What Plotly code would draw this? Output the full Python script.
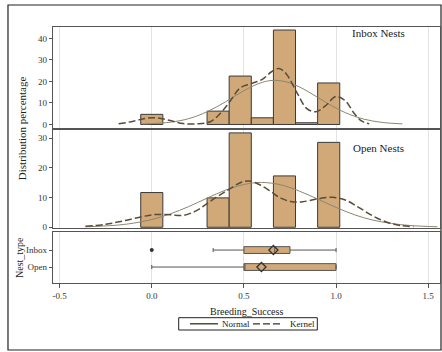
import plotly.graph_objects as go

# ---------------- data ----------------
bin_centers = [0.0, 0.12, 0.24, 0.36, 0.48, 0.60, 0.72, 0.84, 0.96]
inbox_pct = [4.7, 0, 0, 6.2, 22.5, 3.1, 43.9, 0.8, 19.3]
open_pct = [11.7, 0, 0, 9.9, 31.8, 0, 17.3, 0, 28.6]
bin_width = 0.12

inbox_normal_x = [-0.05, 0.1, 0.2, 0.3, 0.4, 0.5, 0.6, 0.67, 0.75, 0.85, 0.95, 1.05, 1.15, 1.25, 1.36]
inbox_normal_y = [0.2, 1.05, 2.7, 5.9, 10.5, 15.7, 19.6, 20.5, 19.3, 15.2, 10.0, 5.5, 2.5, 0.95, 0.27]

inbox_kernel_x = [-0.18, -0.1, -0.03, 0.03, 0.1, 0.17, 0.25, 0.32, 0.37, 0.42, 0.48, 0.54, 0.6, 0.65,
                  0.69, 0.73, 0.79, 0.84, 0.89, 0.94, 1.0, 1.05, 1.1, 1.14, 1.18]
inbox_kernel_y = [0.3, 1.5, 2.9, 3.0, 1.8, 0.4, 0.3, 1.4, 5.0, 10.2, 17.0, 19.0, 21.0, 24.5,
                  26.0, 23.5, 14.4, 7.5, 5.9, 8.5, 13.0, 11.0, 5.0, 1.5, 0.3]

open_normal_x = [-0.36, -0.2, -0.1, 0.0, 0.1, 0.2, 0.3, 0.4, 0.5, 0.595, 0.7, 0.8, 0.9, 1.0,
                 1.1, 1.2, 1.3, 1.4, 1.55]
open_normal_y = [0.16, 0.65, 1.37, 2.6, 4.5, 6.95, 9.8, 12.5, 14.4, 15.1, 14.3, 12.2, 9.5, 6.7,
                 4.2, 2.4, 1.3, 0.6, 0.16]

open_kernel_x = [-0.36, -0.25, -0.15, -0.05, 0.02, 0.1, 0.17, 0.24, 0.3, 0.36, 0.42, 0.48, 0.53,
                 0.58, 0.64, 0.7, 0.76, 0.82, 0.9, 0.98, 1.05, 1.12, 1.2, 1.28, 1.35, 1.42]
open_kernel_y = [0.3, 1.0, 2.2, 3.6, 4.3, 4.2, 4.0, 5.5, 8.0, 10.5, 12.8, 15.0, 15.6,
                 14.5, 12.3, 9.8, 8.6, 8.6, 9.6, 10.1, 9.2, 6.8, 3.8, 1.6, 0.6, 0.2]

nest_types = ["Inbox", "Open"]
box_low = [0.333, 0.0]
box_q1 = [0.5, 0.5]
box_median = [0.667, 0.5]
box_q3 = [0.75, 1.0]
box_high = [1.0, 1.0]
box_mean = [0.66, 0.595]
outlier_type = ["Inbox"]
outlier_x = [0.0]

x_ticks = [-0.5, 0.0, 0.5, 1.0, 1.5]
x_tick_labels = ["-0.5", "0.0", "0.5", "1.0", "1.5"]
legend_names = ["Normal", "Kernel"]

# ---------------- styles ----------------
BAR = "#D1A877"
EDGE = "#3a3a3a"
NORMAL_C = "#8b8672"
KERNEL_C = "#5a4c38"
FONT = "Liberation Serif"
AX = "#555555"
KDASH = "7px,3px"

fig = go.Figure()

def bars(xs, ys, yaxis, xaxis):
    px = [x for x, y in zip(xs, ys) if y > 0]
    py = [y for y in ys if y > 0]
    fig.add_trace(go.Bar(x=px, y=py, width=bin_width, xaxis=xaxis, yaxis=yaxis,
                         marker=dict(color=BAR, line=dict(color=EDGE, width=1)),
                         showlegend=False, hoverinfo="skip"))

bars(bin_centers, inbox_pct, "y3", "x3")
bars(bin_centers, open_pct, "y2", "x2")

for xs, ys, ya, xa in [(inbox_normal_x, inbox_normal_y, "y3", "x3"), (open_normal_x, open_normal_y, "y2", "x2")]:
    fig.add_trace(go.Scatter(x=xs, y=ys, xaxis=xa, yaxis=ya, mode="lines",
                             line=dict(color=NORMAL_C, width=1, shape="spline", smoothing=1),
                             showlegend=False, hoverinfo="skip"))
for xs, ys, ya, xa in [(inbox_kernel_x, inbox_kernel_y, "y3", "x3"), (open_kernel_x, open_kernel_y, "y2", "x2")]:
    fig.add_trace(go.Scatter(x=xs, y=ys, xaxis=xa, yaxis=ya, mode="lines",
                             line=dict(color=KERNEL_C, width=1.5, dash=KDASH, shape="spline", smoothing=1),
                             showlegend=False, hoverinfo="skip"))

# box plot panel
fig.add_trace(go.Box(y=nest_types, lowerfence=box_low, q1=box_q1, median=box_median, q3=box_q3,
                     upperfence=box_high, orientation="h", xaxis="x", yaxis="y",
                     fillcolor=BAR, line=dict(color=AX, width=1), width=0.4, whiskerwidth=0.6,
                     boxpoints=False, showlegend=False, hoverinfo="skip"))
fig.add_trace(go.Scatter(x=box_mean, y=nest_types, mode="markers", xaxis="x", yaxis="y",
                         marker=dict(symbol="diamond-open", size=7, color="#333", line=dict(width=1.3)),
                         showlegend=False, hoverinfo="skip"))
fig.add_trace(go.Scatter(x=outlier_x, y=outlier_type, mode="markers", xaxis="x", yaxis="y",
                         marker=dict(symbol="circle", size=4, color="#333"),
                         showlegend=False, hoverinfo="skip"))

xr = [-0.536, 1.564]
common_x = dict(range=xr, showgrid=True, gridcolor="#e3e3e3", gridwidth=1, tickvals=x_ticks,
                showline=True, mirror=True, linecolor=AX, linewidth=1.2, zeroline=False,
                tickfont=dict(family=FONT, size=9, color="#333"))
common_y = dict(showgrid=False, zeroline=False, showline=True, mirror=True, linecolor=AX, linewidth=1.2,
                ticks="outside", ticklen=3, tickcolor=AX, tickfont=dict(family=FONT, size=9, color="#333"))

fig.update_layout(
    width=442, height=352, autosize=False,
    margin=dict(l=53, r=2, t=27, b=69),
    paper_bgcolor="white", plot_bgcolor="white",
    barmode="overlay",
    showlegend=False,
    xaxis=dict(**common_x, anchor="y", ticktext=x_tick_labels, ticks="outside", ticklen=4, tickcolor=AX),
    xaxis2=dict(**common_x, anchor="y2", showticklabels=False, matches="x"),
    xaxis3=dict(**common_x, anchor="y3", showticklabels=False, matches="x"),
    yaxis=dict(**common_y, domain=[0.0, 0.199], anchor="x", type="category",
               categoryorder="array", categoryarray=["Open", "Inbox"], range=[-0.94, 2.06]),
    yaxis2=dict(**common_y, domain=[0.215, 0.598], anchor="x2", range=[-0.24, 32.8], tickvals=[0, 10, 20, 30]),
    yaxis3=dict(**common_y, domain=[0.605, 1.0], anchor="x3", range=[-1.7, 45.3], tickvals=[0, 10, 20, 30, 40]),
)

ann = dict(showarrow=False, xref="paper", yref="paper", font=dict(family=FONT, color="#222"))
fig.add_annotation(**ann, x=0.841, y=0.976, text="Inbox Nests", xanchor="center", yanchor="middle",
                   font_size=11)
fig.add_annotation(**ann, x=0.841, y=0.529, text="Open Nests", xanchor="center", yanchor="middle",
                   font_size=11)
fig.add_annotation(**ann, x=-0.08, y=0.605, text="Distribution percentage", textangle=-90,
                   xanchor="center", yanchor="middle", font_size=11)
fig.add_annotation(**ann, x=-0.085, y=0.098, text="Nest_type", textangle=-90,
                   xanchor="center", yanchor="middle", font_size=10)
fig.add_annotation(**ann, x=0.501, y=-0.113, text="Breeding_Success", xanchor="center", yanchor="middle",
                   font_size=10)

# custom legend box (Normal / Kernel)
ly = -0.1594
fig.add_shape(type="rect", xref="paper", yref="paper", x0=0.3248, x1=0.683, y0=-0.1836, y1=-0.1355,
              line=dict(color="#222", width=1), fillcolor="white")
fig.add_shape(type="line", xref="paper", yref="paper", x0=0.354, x1=0.4264, y0=ly, y1=ly,
              line=dict(color="#3a3020", width=1.3))
fig.add_shape(type="line", xref="paper", yref="paper", x0=0.5168, x1=0.5943, y0=ly, y1=ly,
              line=dict(color="#3a3020", width=1.3, dash=KDASH))
fig.add_annotation(**ann, x=0.4315, y=ly, text=legend_names[0], xanchor="left", yanchor="middle", font_size=9)
fig.add_annotation(**ann, x=0.6072, y=ly, text=legend_names[1], xanchor="left", yanchor="middle", font_size=9)

# outer frame
fig.add_shape(type="rect", xref="paper", yref="paper", x0=-0.1163, x1=1.0026, y0=-0.2617, y1=1.086,
              line=dict(color="#222", width=1.2), fillcolor="rgba(0,0,0,0)", layer="below")

fig.write_html("out.html")
